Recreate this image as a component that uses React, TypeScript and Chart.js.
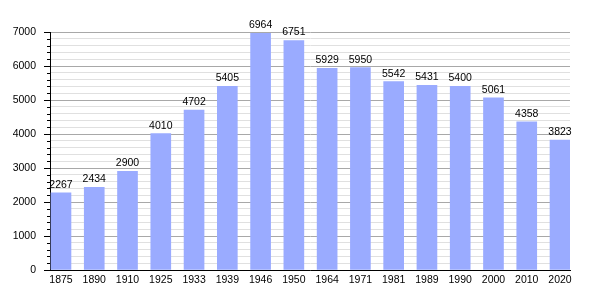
import React, { useEffect, useRef } from "react";
import { Chart, registerables } from "chart.js";

Chart.register(...registerables);

const years = ["1875", "1890", "1910", "1925", "1933", "1939", "1946", "1950", "1964", "1971", "1981", "1989", "1990", "2000", "2010", "2020"];
const population = [2267, 2434, 2900, 4010, 4702, 5405, 6964, 6751, 5929, 5950, 5542, 5431, 5400, 5061, 4358, 3823];
const yMax = 7000;
const yMinorStep = 200;
const yMajorStep = 1000;

const FONT = "'Liberation Sans', Arial, sans-serif";

const yTickMarks = {
  id: "yTickMarks",
  afterDraw(chart: any) {
    const y = chart.scales.y;
    const ctx = chart.ctx;
    ctx.save();
    ctx.strokeStyle = "#000";
    ctx.lineWidth = 1;
    y.ticks.forEach((t: any) => {
      const p = Math.round(y.getPixelForValue(t.value)) + 0.5;
      const len = t.value % yMajorStep === 0 ? 6 : 3;
      ctx.beginPath();
      ctx.moveTo(y.right - len, p);
      ctx.lineTo(y.right, p);
      ctx.stroke();
    });
    ctx.restore();
  },
};

const valueLabels = {
  id: "valueLabels",
  afterDraw(chart: any) {
    const ctx = chart.ctx;
    const meta = chart.getDatasetMeta(0);
    const data = chart.data.datasets[0].data;
    ctx.save();
    ctx.fillStyle = "#000";
    ctx.font = `10.5px ${FONT}`;
    ctx.textAlign = "center";
    ctx.textBaseline = "alphabetic";
    meta.data.forEach((bar: any, i: number) => {
      const v = data[i];
      ctx.fillText(String(v.y), bar.x, bar.y - 5);
    });
    ctx.restore();
  },
};

export default function App() {
  const ref = useRef<HTMLCanvasElement>(null);
  useEffect(() => {
    document.body.style.margin = "0";
    const chart = new Chart(ref.current!, {
      type: "bar",
      data: {
        datasets: [
          {
            data: population.map((v, i) => ({ x: i, y: v })),
            backgroundColor: "#9aabff",
            borderWidth: 0,
            barThickness: 20,
          },
        ],
      },
      options: {
        animation: false,
        responsive: false,
        maintainAspectRatio: false,
        layout: { padding: { left: 0, right: 30, top: 32, bottom: 0 } },
        plugins: { legend: { display: false }, tooltip: { enabled: false } },
        scales: {
          x: {
            type: "linear",
            offset: false,
            min: -0.33,
            max: 15.3,
            grid: { display: false, drawTicks: false, offset: false },
            border: { display: true, color: "#000", width: 1 },
            ticks: {
              stepSize: 1,
              includeBounds: false,
              autoSkip: false,
              maxRotation: 0,
              padding: 4,
              color: "#000",
              font: { family: FONT, size: 10.5 },
              callback: (v: any) => (Number.isInteger(v) && years[v] ? years[v] : ""),
            },
            afterFit: (s: any) => {
              s.height = 30;
            },
          },
          y: {
            min: 0,
            max: yMax,
            grid: {
              drawTicks: false,
              color: (c: any) => (c.tick && c.tick.value % yMajorStep === 0 ? "#a8a8a8" : "#e0e0e0"),
            },
            border: { display: true, color: "#000", width: 1 },
            ticks: {
              stepSize: yMinorStep,
              autoSkip: false,
              padding: 14,
              color: "#000",
              font: { family: FONT, size: 10.5 },
              callback: (v: any) => (v % yMajorStep === 0 ? String(v) : ""),
            },
            afterFit: (s: any) => {
              s.width = 50;
            },
          },
        },
      },
      plugins: [yTickMarks, valueLabels],
    });
    return () => chart.destroy();
  }, []);
  return (
    <div style={{ position: "absolute", left: 0, top: 0, width: 600, height: 300, background: "#fff" }}>
      <canvas ref={ref} width={600} height={300} style={{ display: "block" }} />
    </div>
  );
}
